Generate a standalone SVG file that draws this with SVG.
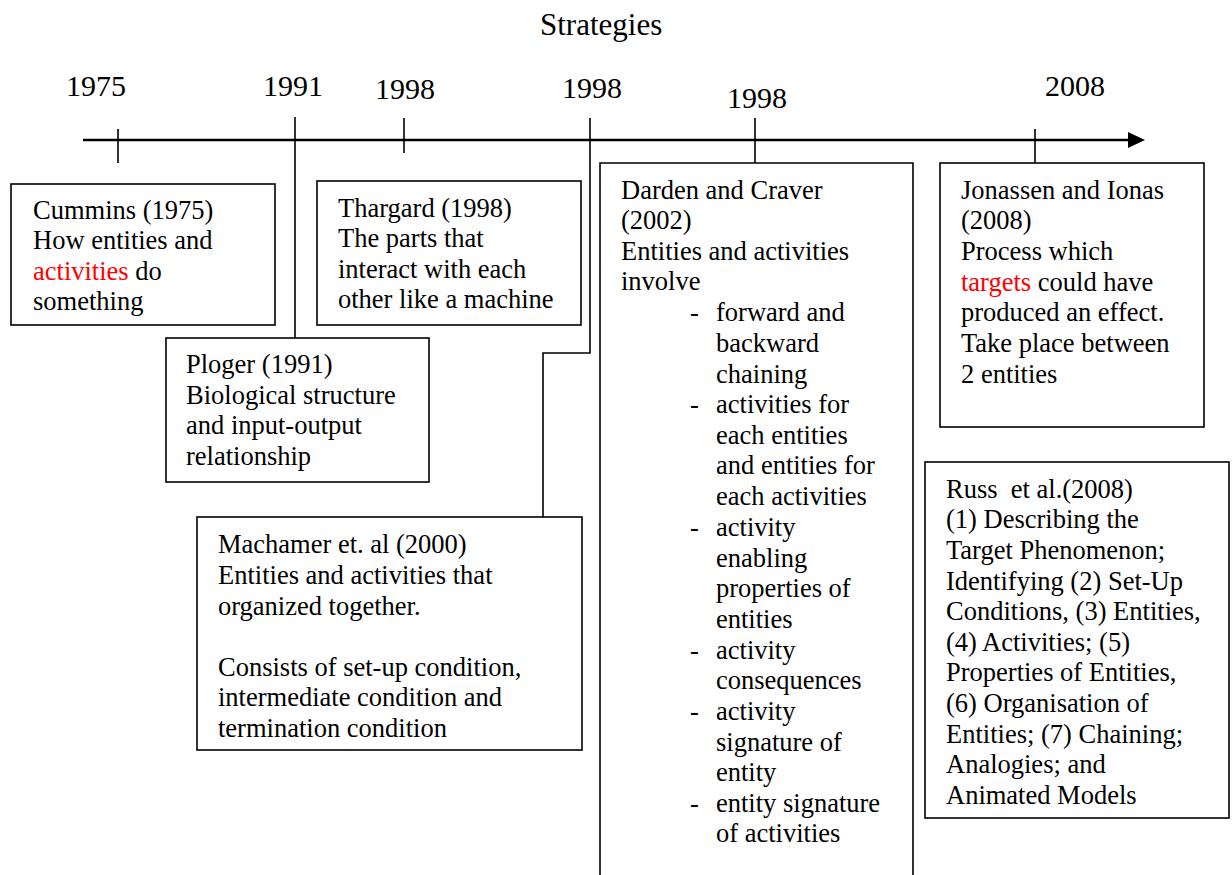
<svg xmlns="http://www.w3.org/2000/svg" width="1232" height="875" viewBox="0 0 1232 875">
<style>
text{font-family:"Liberation Serif","Times New Roman",serif;font-size:26.5px;fill:#000}
.yr{font-size:30px}
.ttl{font-size:31px}
.red{fill:#ff0000}
.box{fill:#fff;stroke:#000;stroke-width:1.6}
.ln{fill:none;stroke:#000;stroke-width:1.6}
.axis{fill:none;stroke:#000;stroke-width:2.6}
</style>
<rect width="1232" height="875" fill="#fff"/>
<text x="540" y="35" class="ttl">Strategies</text>
<g id="years">
<text x="66" y="96" class="yr">1975</text>
<text x="263" y="96" class="yr">1991</text>
<text x="375" y="99" class="yr">1998</text>
<text x="562" y="98" class="yr">1998</text>
<text x="727" y="108" class="yr">1998</text>
<text x="1045" y="96" class="yr">2008</text>
</g>
<g id="connectors">
<path class="axis" d="M83,140 H1129"/>
<path d="M1128,132 L1145,140 L1128,148 Z" fill="#000"/>
<path class="ln" d="M118,129 V163"/>
<path class="ln" d="M295,117 V338"/>
<path class="ln" d="M404,118 V153"/>
<path class="ln" d="M590,118 V353 H543 V517"/>
<path class="ln" d="M755,118 V163"/>
<path class="ln" d="M1035,129 V163"/>
</g>
<g id="cummins">
<rect class="box" x="11" y="184" width="264" height="141"/>
<text x="33" y="219">Cummins (1975)</text>
<text x="33" y="249">How entities and</text>
<text x="33" y="280"><tspan class="red">activities</tspan> do</text>
<text x="33" y="310">something</text>
</g>
<g id="thargard">
<rect class="box" x="317" y="181" width="264" height="144"/>
<text x="338" y="217">Thargard (1998)</text>
<text x="338" y="247">The parts that</text>
<text x="338" y="278">interact with each</text>
<text x="338" y="308">other like a machine</text>
</g>
<g id="ploger">
<rect class="box" x="166" y="338" width="263" height="144"/>
<text x="186" y="373">Ploger (1991)</text>
<text x="186" y="404">Biological structure</text>
<text x="186" y="434">and input-output</text>
<text x="186" y="465">relationship</text>
</g>
<g id="machamer">
<rect class="box" x="197" y="517" width="385" height="233"/>
<text x="218" y="553">Machamer et. al (2000)</text>
<text x="218" y="584">Entities and activities that</text>
<text x="218" y="615">organized together.</text>
<text x="218" y="676">Consists of set-up condition,</text>
<text x="218" y="706">intermediate condition and</text>
<text x="218" y="737">termination condition</text>
</g>
<g id="darden">
<path class="box" d="M600,880 V163 H913 V880"/>
<text x="621" y="199">Darden and Craver</text>
<text x="621" y="229">(2002)</text>
<text x="621" y="260">Entities and activities</text>
<text x="621" y="290">involve</text>
<text x="690" y="321">-</text><text x="716" y="321">forward and</text>
<text x="716" y="352">backward</text>
<text x="716" y="383">chaining</text>
<text x="690" y="413">-</text><text x="716" y="413">activities for</text>
<text x="716" y="444">each entities</text>
<text x="716" y="474">and entities for</text>
<text x="716" y="505">each activities</text>
<text x="690" y="536">-</text><text x="716" y="536">activity</text>
<text x="716" y="567">enabling</text>
<text x="716" y="597">properties of</text>
<text x="716" y="628">entities</text>
<text x="690" y="659">-</text><text x="716" y="659">activity</text>
<text x="716" y="689">consequences</text>
<text x="690" y="720">-</text><text x="716" y="720">activity</text>
<text x="716" y="751">signature of</text>
<text x="716" y="781">entity</text>
<text x="690" y="812">-</text><text x="716" y="812">entity signature</text>
<text x="716" y="842">of activities</text>
</g>
<g id="jonassen">
<rect class="box" x="940" y="163" width="264" height="264"/>
<text x="961" y="199">Jonassen and Ionas</text>
<text x="961" y="229">(2008)</text>
<text x="961" y="260">Process which</text>
<text x="961" y="291"><tspan class="red">targets</tspan> could have</text>
<text x="961" y="321">produced an effect.</text>
<text x="961" y="352">Take place between</text>
<text x="961" y="383">2 entities</text>
</g>
<g id="russ">
<rect class="box" x="925" y="462" width="304" height="356"/>
<text x="946" y="498" xml:space="preserve">Russ  et al.(2008)</text>
<text x="946" y="528">(1) Describing the</text>
<text x="946" y="559">Target Phenomenon;</text>
<text x="946" y="590">Identifying (2) Set-Up</text>
<text x="946" y="620">Conditions, (3) Entities,</text>
<text x="946" y="651">(4) Activities; (5)</text>
<text x="946" y="681">Properties of Entities,</text>
<text x="946" y="712">(6) Organisation of</text>
<text x="946" y="743">Entities; (7) Chaining;</text>
<text x="946" y="773">Analogies; and</text>
<text x="946" y="804">Animated Models</text>
</g>
</svg>
